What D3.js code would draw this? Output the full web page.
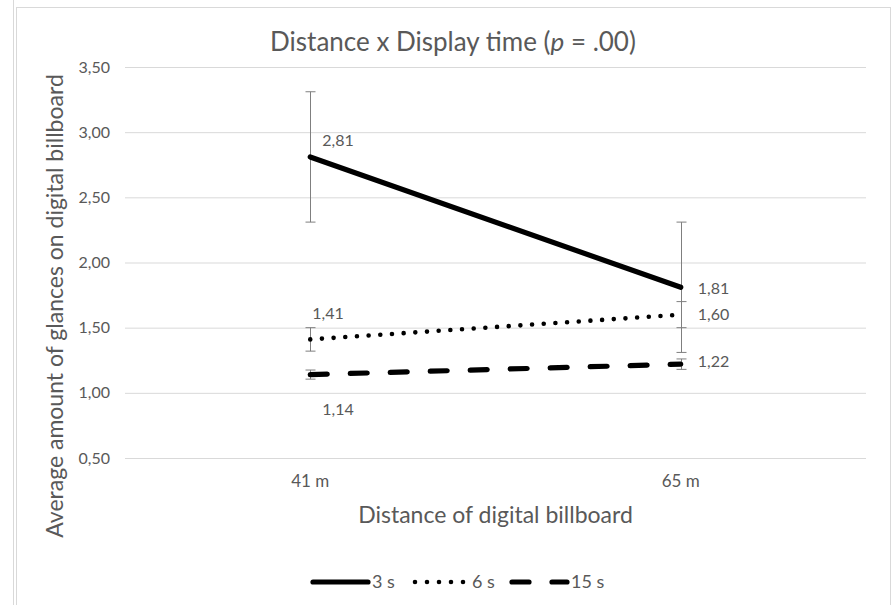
<!DOCTYPE html>
<html>
<head>
<meta charset="utf-8">
<script src="https://cdn.jsdelivr.net/npm/d3@7"></script>
<style>
  body { margin: 0; background: #fff; }
  svg { display: block; font-family: Lato, "Open Sans", sans-serif; }
</style>
</head>
<body>
<div id="chart"></div>
<script>
// data
const distances = ['41 m', '65 m'];
const seriesNames = ['3 s', '6 s', '15 s'];
const means3 = [2.81, 1.81];
const means6 = [1.41, 1.60];
const means15 = [1.14, 1.22];
const err3 = [0.5, 0.5];
const err6 = [0.09, 0.10];
const err15 = [0.035, 0.04];
const yTicks = [0.5, 1, 1.5, 2, 2.5, 3, 3.5];

const width = 892;
const height = 605;

// plot area
const plot = { left: 125, right: 866, top: 67, bottom: 458 };

const svg = d3.select('#chart')
  .append('svg')
  .attr('width', width)
  .attr('height', height);

svg.append('rect').attr('width', width).attr('height', height).attr('fill', '#fff');

// excel sheet edge + chart border
svg.append('line')
  .attr('x1', 13.5).attr('x2', 13.5).attr('y1', 0).attr('y2', height)
  .attr('stroke', '#d9d9d9');
svg.append('rect')
  .attr('x', 16.5).attr('y', 7.5)
  .attr('width', 874).attr('height', 610)
  .attr('fill', 'none')
  .attr('stroke', '#d9d9d9');

const xScale = d3.scaleBand().domain(distances).range([plot.left, plot.right]);
const yScale = d3.scaleLinear().domain([0.5, 3.5]).range([plot.bottom, plot.top]);

const comma = d3.formatLocale({ decimal: ',', thousands: '.', grouping: [3], currency: ['', ''] }).format('.2f');

// gridlines
const grid = svg.append('g')
  .attr('transform', `translate(${plot.left},0)`)
  .call(d3.axisLeft(yScale).tickValues(yTicks).tickFormat('').tickSize(-(plot.right - plot.left)));
grid.select('.domain').remove();
grid.selectAll('line').attr('stroke', '#d9d9d9');

// y axis labels
const yAxis = svg.append('g')
  .attr('transform', `translate(${plot.left},0)`)
  .call(d3.axisLeft(yScale).tickValues(yTicks).tickFormat(comma).tickSize(0).tickPadding(15));
yAxis.select('.domain').remove();
yAxis.selectAll('text')
  .attr('fill', '#595959')
  .style('font-size', '16px')
  .style('font-family', 'Lato, sans-serif');

// x axis labels
const xAxis = svg.append('g')
  .attr('transform', `translate(0,${plot.bottom})`)
  .call(d3.axisBottom(xScale).tickSize(0).tickPadding(17));
xAxis.select('.domain').remove();
xAxis.selectAll('text')
  .attr('fill', '#595959')
  .style('font-size', '17px')
  .style('font-family', 'Lato, sans-serif');

// series
const series = [
  { name: seriesNames[0], means: means3, errs: err3, width: 5.2, dash: null },
  { name: seriesNames[1], means: means6, errs: err6, width: 4.6, dash: '0 11.7' },
  { name: seriesNames[2], means: means15, errs: err15, width: 5.2, dash: '17 23' },
];

const cx = (d) => xScale(d) + xScale.bandwidth() / 2;

// error bars
series.forEach((s) => {
  const g = svg.append('g').attr('stroke', '#7f7f7f').attr('stroke-width', 1);
  distances.forEach((dist, i) => {
    const x = Math.round(cx(dist)) + 0.5;
    const y0 = yScale(s.means[i] - s.errs[i]);
    const y1 = yScale(s.means[i] + s.errs[i]);
    g.append('line').attr('x1', x).attr('x2', x).attr('y1', y0).attr('y2', y1);
    g.append('line').attr('x1', x - 5).attr('x2', x + 5).attr('y1', y0).attr('y2', y0);
    g.append('line').attr('x1', x - 5).attr('x2', x + 5).attr('y1', y1).attr('y2', y1);
  });
});

const line = d3.line()
  .x((d) => cx(d.dist))
  .y((d) => yScale(d.v));

series.forEach((s) => {
  svg.append('path')
    .datum(distances.map((dist, i) => ({ dist, v: s.means[i] })))
    .attr('d', line)
    .attr('fill', 'none')
    .attr('stroke', '#000')
    .attr('stroke-width', s.width)
    .attr('stroke-linecap', 'round')
    .attr('stroke-dasharray', s.dash);
});

// data labels (offsets as placed in the original)
const labelOffsets = [
  [[12, -17], [17, 1]],
  [[2, -26], [17, 0]],
  [[12, 35], [17, -3]],
];
series.forEach((s, si) => {
  distances.forEach((dist, i) => {
    const [dx, dy] = labelOffsets[si][i];
    svg.append('text')
      .attr('x', cx(dist) + dx)
      .attr('y', yScale(s.means[i]) + dy)
      .attr('dy', '0.35em')
      .attr('fill', '#595959')
      .style('font-size', '16px')
      .text(comma(s.means[i]));
  });
});

// title
const title = svg.append('text')
  .attr('x', 453)
  .attr('y', 42)
  .attr('dy', '0.35em')
  .attr('text-anchor', 'middle')
  .attr('fill', '#595959')
  .style('font-size', '26px');
title.append('tspan').text('Distance x Display time (');
title.append('tspan').style('font-style', 'italic').text('p');
title.append('tspan').text(' = .00)');

// axis titles
svg.append('text')
  .attr('x', (plot.left + plot.right) / 2)
  .attr('y', 515)
  .attr('dy', '0.35em')
  .attr('text-anchor', 'middle')
  .attr('fill', '#595959')
  .style('font-size', '23px')
  .text('Distance of digital billboard');

svg.append('text')
  .attr('transform', 'translate(55,306) rotate(-90)')
  .attr('dy', '0.35em')
  .attr('text-anchor', 'middle')
  .attr('fill', '#595959')
  .style('font-size', '23px')
  .text('Average amount of glances on digital billboard');

// legend
const legend = svg.append('g').attr('transform', 'translate(313,582)');
const legendX = [0, 100, 199];
series.forEach((s, i) => {
  const g = legend.append('g').attr('transform', `translate(${legendX[i]},0)`);
  g.append('line')
    .attr('x1', i === 1 ? 2 : 0).attr('x2', i === 1 ? 51 : 55)
    .attr('y1', 0).attr('y2', 0)
    .attr('stroke', '#000')
    .attr('stroke-width', s.width)
    .attr('stroke-linecap', 'round')
    .attr('stroke-dasharray', i === 1 ? '0 12' : s.dash);
  g.append('text')
    .attr('x', 59)
    .attr('y', 0)
    .attr('dy', '0.35em')
    .attr('fill', '#595959')
    .style('font-size', '18px')
    .text(s.name);
});
</script>
</body>
</html>
